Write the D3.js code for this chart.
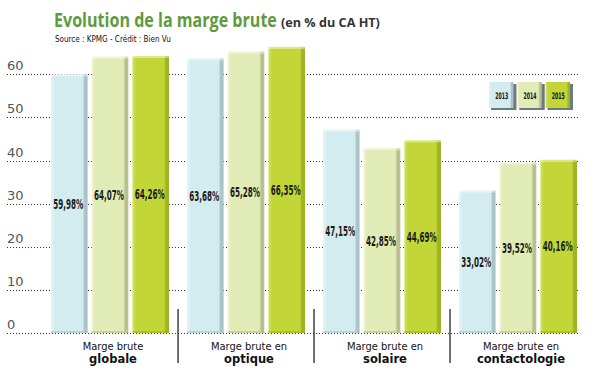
<!DOCTYPE html>
<html>
<head>
<meta charset="utf-8">
<script src="https://cdn.jsdelivr.net/npm/d3@7/dist/d3.min.js"></script>
<style>
	body { margin: 0; background: #fff; }
	svg { display: block; }
	.narrow { font-family: "Liberation Sans Narrow", "DejaVu Sans Condensed", "Roboto Condensed", sans-serif; font-stretch: condensed; }
</style>
</head>
<body>
<div class="chart"></div>
<script>
// chart data
var categories = ["globale", "optique", "solaire", "contactologie"];
var catLine1 = ["Marge brute", "Marge brute en", "Marge brute en", "Marge brute en"];
var years = ["2013", "2014", "2015"];
var values2013 = [59.98, 63.68, 47.15, 33.02];
var values2014 = [64.07, 65.28, 42.85, 39.52];
var values2015 = [64.26, 66.35, 44.69, 40.16];
var yTicks = [0, 10, 20, 30, 40, 50, 60];

var seriesValues = [values2013, values2014, values2015];
var colors = {
	"2013": {base: "#d3ecef", light: "#e6f5f7", dark: "#a9c3c7"},
	"2014": {base: "#e1ebb5", light: "#edf3d3", dark: "#b9bf93"},
	"2015": {base: "#c2d637", light: "#d4e36c", dark: "#9fb323"}
};

var width = 590, height = 380;

var svg = d3.select("div.chart").append("svg")
	.attr("width", width)
	.attr("height", height);

// squeeze a text horizontally so it is `target` px wide, anchored at (ax, 0)
function fitWidth(node, target, ax) {
	var w = node.getComputedTextLength();
	if (!w) return;
	var k = target / w;
	d3.select(node).attr("transform", "translate(" + ax + ",0) scale(" + k + ",1) translate(" + (-ax) + ",0)");
}

// gradients for the bevelled bars
var defs = svg.append("defs");
years.forEach(function(yr) {
	var c = colors[yr];
	var g = defs.append("linearGradient").attr("id", "grad" + yr)
		.attr("x1", 0).attr("x2", 1).attr("y1", 0).attr("y2", 0);
	g.append("stop").attr("offset", "0%").attr("stop-color", c.light);
	g.append("stop").attr("offset", "10%").attr("stop-color", c.base);
	g.append("stop").attr("offset", "86%").attr("stop-color", c.base);
	g.append("stop").attr("offset", "92%").attr("stop-color", c.dark);
	g.append("stop").attr("offset", "100%").attr("stop-color", c.dark);
});

var x0 = d3.scaleBand()
	.domain(categories)
	.range([51, 577])
	.paddingInner(0.132)
	.paddingOuter(0);

var x1 = d3.scaleBand()
	.domain(years)
	.range([0, x0.bandwidth()])
	.paddingInner(0.1);

var y = d3.scaleLinear()
	.domain([0, 60])
	.range([333, 74.3]);

// title
svg.append("text")
	.attr("x", 54).attr("y", 27)
	.attr("font-family", "'Open Sans', sans-serif")
	.attr("font-weight", "bold")
	.attr("font-size", 19)
	.attr("fill", "#5f9a40")
	.text("Evolution de la marge brute")
	.each(function() { fitWidth(this, 223, 54); });

svg.append("text")
	.attr("x", 281).attr("y", 27)
	.attr("font-family", "'Open Sans', sans-serif")
	.attr("font-weight", "bold")
	.attr("font-size", 12.5)
	.attr("fill", "#333")
	.text("(en % du CA HT)")
	.each(function() { fitWidth(this, 99, 281); });

svg.append("text")
	.attr("class", "narrow")
	.attr("x", 55).attr("y", 42)
	.attr("font-size", 9)
	.attr("fill", "#111")
	.text("Source : KPMG - Crédit : Bien Vu")
	.each(function() { fitWidth(this, 116, 55); });

// gridlines + tick labels
svg.append("g").selectAll("line")
	.data(yTicks).enter().append("line")
	.attr("x1", 7).attr("x2", 578)
	.attr("y1", function(d) { return Math.round(y(d)) + 0.5; })
	.attr("y2", function(d) { return Math.round(y(d)) + 0.5; })
	.attr("stroke", "#333")
	.attr("stroke-width", 1)
	.attr("stroke-dasharray", "1,2");

svg.append("g").selectAll("text")
	.data(yTicks).enter().append("text")
	.attr("x", 7)
	.attr("y", function(d) { return y(d) - 4; })
	.attr("font-family", "'DejaVu Sans', sans-serif")
	.attr("font-size", 13)
	.attr("fill", "#555")
	.text(function(d) { return d; });

// bars
var group = svg.append("g").selectAll("g.grp")
	.data(categories).enter().append("g")
	.attr("class", "grp")
	.attr("transform", function(d) { return "translate(" + x0(d) + ",0)"; });

var bar = group.selectAll("g.bar")
	.data(function(d, i) {
		return years.map(function(yr, j) { return {year: yr, value: seriesValues[j][i]}; });
	})
	.enter().append("g")
	.attr("class", "bar");

bar.append("rect")
	.attr("x", function(d) { return x1(d.year); })
	.attr("y", function(d) { return y(d.value); })
	.attr("width", x1.bandwidth())
	.attr("height", function(d) { return y(0) - y(d.value); })
	.attr("fill", function(d) { return "url(#grad" + d.year + ")"; });

// top highlight
bar.append("rect")
	.attr("x", function(d) { return x1(d.year); })
	.attr("y", function(d) { return y(d.value); })
	.attr("width", x1.bandwidth())
	.attr("height", 2)
	.attr("fill", "#fff")
	.attr("opacity", 0.45);

// bottom shade
bar.append("rect")
	.attr("x", function(d) { return x1(d.year); })
	.attr("y", y(0) - 2)
	.attr("width", x1.bandwidth())
	.attr("height", 2)
	.attr("fill", function(d) { return colors[d.year].dark; })
	.attr("opacity", 0.6);

bar.append("text")
	.attr("class", "narrow")
	.attr("x", function(d) { return x1(d.year) + x1.bandwidth() / 2 - 1; })
	.attr("y", function(d) { return (y(d.value) + y(0)) / 2; })
	.attr("dy", "0.35em")
	.attr("text-anchor", "middle")
	.attr("font-size", 14)
	.attr("font-weight", "bold")
	.attr("fill", "#1a1a1a")
	.text(function(d) { return d.value.toFixed(2).replace(".", ",") + "%"; })
	.each(function(d) { fitWidth(this, 30, x1(d.year) + x1.bandwidth() / 2 - 1); });

// separators between groups
svg.append("g").selectAll("line")
	.data(categories.slice(0, -1)).enter().append("line")
	.attr("x1", function(d) { return x0(d) + x0.bandwidth() + 9; })
	.attr("x2", function(d) { return x0(d) + x0.bandwidth() + 9; })
	.attr("y1", 309).attr("y2", 363)
	.attr("stroke", "#111")
	.attr("stroke-width", 1.2);

// category labels
var labelX = function(d) { return x0(d) + x0.bandwidth() / 2 + 3; };

svg.append("g").selectAll("text")
	.data(categories).enter().append("text")
	.attr("class", "narrow")
	.attr("text-anchor", "middle")
	.attr("x", labelX)
	.attr("y", 350)
	.attr("font-size", 11)
	.attr("fill", "#111")
	.text(function(d, i) { return catLine1[i]; });

svg.append("g").selectAll("text")
	.data(categories).enter().append("text")
	.attr("text-anchor", "middle")
	.attr("x", labelX)
	.attr("y", 363)
	.attr("font-family", "'DejaVu Sans', sans-serif")
	.attr("font-weight", "bold")
	.attr("font-size", 11.5)
	.attr("fill", "#111")
	.text(function(d) { return d; });

// legend
var legendX = d3.scaleBand()
	.domain(years)
	.range([489, 571])
	.paddingInner(0.1);

var legend = svg.append("g").selectAll("g")
	.data(years).enter().append("g");

legend.append("rect")
	.attr("x", function(d) { return legendX(d) + 2; })
	.attr("y", 84)
	.attr("width", legendX.bandwidth())
	.attr("height", 26)
	.attr("fill", "#6f7a7c");

legend.append("rect")
	.attr("x", function(d) { return legendX(d); })
	.attr("y", 82)
	.attr("width", legendX.bandwidth() - 1)
	.attr("height", 26)
	.attr("fill", function(d) { return "url(#grad" + d + ")"; });

legend.append("text")
	.attr("class", "narrow")
	.attr("x", function(d) { return legendX(d) + legendX.bandwidth() / 2; })
	.attr("y", 96)
	.attr("dy", "0.35em")
	.attr("text-anchor", "middle")
	.attr("font-size", 9)
	.attr("font-weight", "bold")
	.attr("fill", "#111")
	.text(function(d) { return d; })
	.each(function(d) { fitWidth(this, 13, legendX(d) + legendX.bandwidth() / 2); });
</script>
</body>
</html>
